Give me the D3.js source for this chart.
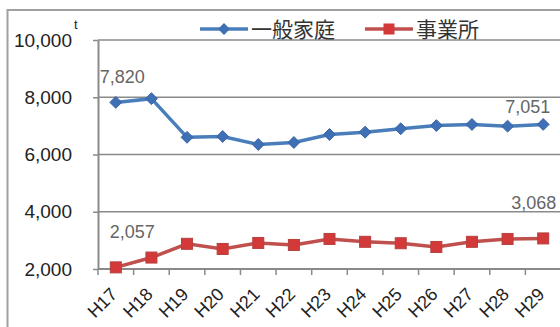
<!DOCTYPE html>
<html>
<head>
<meta charset="utf-8">
<script src="https://cdn.jsdelivr.net/npm/d3@7"></script>
<style>
  html, body { margin: 0; padding: 0; background: #fff; }
  svg { display: block; }
  .num { font-family: 'Liberation Sans', Arial, sans-serif; }
  .jp { font-family: 'Noto Sans CJK JP', sans-serif; }
</style>
</head>
<body>
<div id="vis"></div>
<script>
const years = ['H17', 'H18', 'H19', 'H20', 'H21', 'H22', 'H23', 'H24', 'H25', 'H26', 'H27', 'H28', 'H29']
const household = [7820, 7950, 6600, 6630, 6350, 6420, 6700, 6780, 6900, 7010, 7050, 6990, 7051]
const business = [2057, 2400, 2880, 2700, 2910, 2840, 3050, 2950, 2900, 2770, 2950, 3050, 3068]
const yTicks = [2000, 4000, 6000, 8000, 10000]
const seriesNames = ['一般家庭', '事業所']

const width = 560
const height = 327
const margin = { top: 40, right: 0, left: 98, bottom: 58 }

const svg = d3.select('#vis').append('svg')
  .attr('width', width).attr('height', height)
  .attr('viewBox', [0, 0, width, height])

// outer frame
svg.append('rect')
  .attr('x', 7.5).attr('y', 10)
  .attr('width', 620).attr('height', 400)
  .attr('fill', 'none')
  .attr('stroke', '#a0a0a0')
  .attr('stroke-width', 2)

const x = d3.scaleBand()
  .domain(years)
  .range([margin.left, 561])

const y = d3.scaleLinear()
  .domain([2000, 10000])
  .range([height - margin.bottom, margin.top])

const cx = (d) => x(d) + x.bandwidth() / 2

// gridlines
svg.append('g')
  .selectAll('line')
  .data(yTicks.filter((d) => d > 2000))
  .join('line')
  .attr('x1', margin.left).attr('x2', width)
  .attr('y1', (d) => y(d)).attr('y2', (d) => y(d))
  .attr('stroke', '#8a8a8a')
  .attr('stroke-width', 1.5)

// y axis
const yAxis = d3.axisLeft(y)
  .tickValues(yTicks)
  .tickSizeInner(5)
  .tickSizeOuter(0)
  .tickFormat(d3.format(','))

const yg = svg.append('g')
  .attr('transform', `translate(${margin.left},0)`)
  .call(yAxis)
yg.select('.domain').attr('stroke', '#8a8a8a').attr('stroke-width', 2)
yg.selectAll('.tick line').attr('stroke', '#8a8a8a').attr('stroke-width', 1.5)
yg.selectAll('.tick text')
  .attr('class', 'num')
  .attr('font-size', 19)
  .attr('fill', '#222')
  .attr('x', -26)

// unit
svg.append('text')
  .attr('class', 'num')
  .attr('x', 74).attr('y', 29)
  .attr('font-size', 13)
  .attr('fill', '#222')
  .text('t')

// x axis
const x0 = y(2000)
svg.append('line')
  .attr('x1', margin.left).attr('x2', width)
  .attr('y1', x0).attr('y2', x0)
  .attr('stroke', '#8a8a8a')
  .attr('stroke-width', 2)

svg.append('g')
  .selectAll('line')
  .data(years)
  .join('line')
  .attr('x1', (d) => x(d)).attr('x2', (d) => x(d))
  .attr('y1', x0).attr('y2', x0 + 6)
  .attr('stroke', '#8a8a8a')
  .attr('stroke-width', 1.5)

svg.append('g')
  .selectAll('text')
  .data(years)
  .join('text')
  .attr('class', 'num')
  .attr('transform', (d) => `translate(${cx(d) - 2},${x0 + 22}) rotate(-45)`)
  .attr('text-anchor', 'end')
  .attr('dy', '0.35em')
  .attr('font-size', 18)
  .attr('fill', '#222')
  .text((d) => d)

const line = d3.line()
  .x((d, i) => cx(years[i]))
  .y((d) => y(d))

// household (blue, diamonds)
svg.append('path')
  .attr('d', line(household))
  .attr('fill', 'none')
  .attr('stroke', '#4a7ebb')
  .attr('stroke-width', 3.5)

const diamond = d3.symbol().type(d3.symbolDiamond2).size(90)

svg.append('g')
  .selectAll('path')
  .data(household)
  .join('path')
  .attr('transform', (d, i) => `translate(${cx(years[i])},${y(d)})`)
  .attr('d', diamond)
  .attr('fill', '#3f70b5')
  .attr('stroke', '#3a65a5')
  .attr('stroke-width', 1)

// business (red, squares)
svg.append('path')
  .attr('d', line(business))
  .attr('fill', 'none')
  .attr('stroke', '#c0504d')
  .attr('stroke-width', 3.5)

svg.append('g')
  .selectAll('rect')
  .data(business)
  .join('rect')
  .attr('x', (d, i) => cx(years[i]) - 5.5)
  .attr('y', (d) => y(d) - 5.5)
  .attr('width', 11).attr('height', 11)
  .attr('fill', '#d4393a')
  .attr('stroke', '#b5403e')
  .attr('stroke-width', 1)

// data labels on first and last points
const fmt = d3.format(',')
const labels = [
  { v: household[0], i: 0, anchor: 'start', dx: -16, dy: -19 },
  { v: household[12], i: 12, anchor: 'end', dx: 7, dy: -11 },
  { v: business[0], i: 0, anchor: 'start', dx: -6, dy: -29 },
  { v: business[12], i: 12, anchor: 'end', dx: 13, dy: -29 }
]
svg.append('g')
  .selectAll('text')
  .data(labels)
  .join('text')
  .attr('class', 'num')
  .attr('x', (d) => cx(years[d.i]) + d.dx)
  .attr('y', (d) => y(d.v) + d.dy)
  .attr('text-anchor', (d) => d.anchor)
  .attr('font-size', 18)
  .attr('fill', '#666')
  .text((d) => fmt(d.v))

// legend
const legend = svg.append('g').attr('transform', 'translate(0,29)')
const items = [
  { name: seriesNames[0], x: 200, color: '#4a7ebb', mark: 'diamond' },
  { name: seriesNames[1], x: 365, color: '#c0504d', mark: 'square' }
]
items.forEach((it) => {
  legend.append('line')
    .attr('x1', it.x).attr('x2', it.x + 48)
    .attr('y1', 0).attr('y2', 0)
    .attr('stroke', it.color)
    .attr('stroke-width', 3.5)
  if (it.mark === 'diamond') {
    legend.append('path')
      .attr('transform', `translate(${it.x + 24},0)`)
      .attr('d', diamond)
      .attr('fill', '#3f70b5')
  } else {
    legend.append('rect')
      .attr('x', it.x + 18.5).attr('y', -5.5)
      .attr('width', 11).attr('height', 11)
      .attr('fill', '#d4393a')
  }
  legend.append('text')
    .attr('class', 'jp')
    .attr('x', it.x + 51)
    .attr('y', 0)
    .attr('dy', '0.36em')
    .attr('font-size', 21)
    .attr('fill', '#333')
    .text(it.name)
})
</script>
</body>
</html>
